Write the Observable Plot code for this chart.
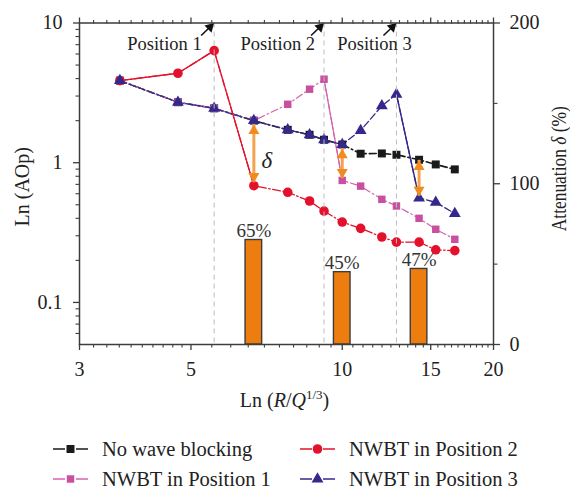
<!DOCTYPE html>
<html><head><meta charset="utf-8">
<script src="https://cdn.jsdelivr.net/npm/d3@7"></script>
<script src="https://cdn.jsdelivr.net/npm/@observablehq/plot@0.6"></script>
<style>
html,body{margin:0;padding:0;background:#fff;}
#wrap{position:relative;width:570px;height:492px;font-family:"Liberation Serif","Times New Roman",serif;overflow:hidden;}
.leg{position:absolute;display:flex;align-items:center;height:30px;font-size:20.5px;color:#222;white-space:nowrap;}
.leg svg{margin-right:14px;flex:none}
</style></head><body><div id="wrap"><div id="chart"></div><div id="legend"></div></div>
<script>
// ---- data ----
const distances   = [3.61, 4.71, 5.56, 6.67, 7.79, 8.61, 9.2, 10.0, 10.88, 11.99, 12.82, 14.22, 15.35, 16.75];
const noBlocking  = [3.87, 2.71, 2.45, 2.0, 1.72, 1.585, 1.46, 1.35, 1.16, 1.165, 1.14, 1.05, 0.972, 0.896];
const position1   = [3.87, 2.71, 2.45, 2.0, 2.62, 3.36, 3.96, 0.747, 0.68, 0.547, 0.49, 0.40, 0.334, 0.283];
const position2   = [3.87, 4.37, 6.34, 0.685, 0.614, 0.532, 0.451, 0.376, 0.339, 0.294, 0.27, 0.27, 0.238, 0.235];
const position3   = [3.87, 2.71, 2.45, 2.0, 1.72, 1.585, 1.46, 1.35, 1.70, 2.55, 3.09, 0.559, 0.52, 0.433];
const seriesNames = ["No wave blocking", "NWBT in Position 1", "NWBT in Position 2", "NWBT in Position 3"];
const positionX   = [5.56, 9.2, 12.82];
const positionLabels = ["Position 1", "Position 2", "Position 3"];
const attenX      = [6.67, 10.0, 14.22];
const attenuation = [65, 45, 47];
const deltaTop    = [1.88, 1.26, 1.04];
const deltaBottom = [0.72, 0.77, 0.575];
const xMajor      = [3, 5, 10, 15, 20];
const yMajor      = [0.1, 1, 10];
const rightMajor  = [0, 100, 200];
const rightMinor  = [50, 150];

// ---- layout ----
const W = 570, H = 420;
const mL = 79, mR = 77, mT = 22.5, mB = 76;
const xDom = [3, 20], yDom = [0.05, 10], rDom = [0, 200];
const pxDecX = (W - mL - mR) / Math.log10(xDom[1] / xDom[0]);
const pxDecY = (H - mT - mB) / Math.log10(yDom[1] / yDom[0]);
const xShift = px => Math.pow(10, px / pxDecX);
const yShift = px => Math.pow(10, px / pxDecY);
const toLeft = v => Math.min(yDom[1], yDom[0] * Math.pow(yDom[1] / yDom[0], (v - rDom[0]) / (rDom[1] - rDom[0])));

const xMinor = [...d3.range(3.2, 4.9, 0.2), ...d3.range(5.5, 19.9, 0.5)].filter(v => !xMajor.some(m => Math.abs(m - v) < 1e-6));
const yMinor = [0.06, 0.07, 0.08, 0.09, 0.2, 0.3, 0.4, 0.5, 0.6, 0.7, 0.8, 0.9, 2, 3, 4, 5, 6, 7, 8, 9];

const styles = [
  {color: "#1a1a1a", line: "#1a1a1a", symbol: "square", r: 4.5, width: 1.6, dash: "7,3,1.5,3", solid: null},
  {color: "#c9509f", line: "#d462ab", symbol: "square", r: 4.2, width: 1.2, dash: "7,3,1.5,3", solid: [6, 7]},
  {color: "#e3112b", line: "#e3112b", symbol: "circle", r: 4.8, width: 1.3, dash: "8,2.5,1.5,2.5", solid: [0, 3]},
  {color: "#35288c", line: "#35288c", symbol: "triangle", r: 4.4, width: 1.3, dash: "7,3", solid: [10, 11]}
];
const allSeries = [noBlocking, position1, position2, position3];
const seriesData = allSeries.map(vals => distances.map((x, i) => ({x, y: vals[i]})));

const marks = [];
// bars on right axis
const barHalf = xShift(8.3);
const barData = attenX.map((x, i) => ({x, v: attenuation[i]}));
marks.push(Plot.rect(barData, {
  x1: d => d.x / barHalf, x2: d => d.x * barHalf,
  y1: d => toLeft(0), y2: d => toLeft(d.v),
  fill: "#ee7d0f", stroke: "#3c3c3c", strokeWidth: 1.4
}));
marks.push(Plot.text(barData, {
  x: "x", y: d => toLeft(d.v), text: d => d.v + "%", dy: -9, lineAnchor: "middle",
  fontSize: 19, fill: "#333"
}));
// series lines and markers
seriesData.forEach((data, k) => {
  const s = styles[k];
  marks.push(Plot.line(data, {x: "x", y: "y", stroke: s.line, strokeWidth: s.width, strokeDasharray: s.dash}));
  if (s.solid) marks.push(Plot.line(data.slice(s.solid[0], s.solid[1] + 1), {x: "x", y: "y", stroke: s.line, strokeWidth: s.width}));
});
seriesData.forEach((data, k) => {
  const s = styles[k];
  marks.push(Plot.dot(data, {x: "x", y: "y", symbol: s.symbol, r: s.r, fill: s.color, stroke: "none"}));
});
// delta arrows
const deltaData = attenX.map((x, i) => ({x, top: deltaTop[i], bottom: deltaBottom[i]}));
marks.push(Plot.ruleX(deltaData, {x: "x", y1: "bottom", y2: "top", stroke: "#f5a24e", strokeWidth: 3}));
marks.push(Plot.dot(deltaData, {x: "x", y: "top", symbol: "triangle", r: 4.1, dy: 6.4, fill: "#f08c1f"}));
marks.push(Plot.dot(deltaData, {x: "x", y: "bottom", symbol: "triangle", r: 4.1, dy: -6.4, rotate: 180, fill: "#f08c1f"}));
marks.push(Plot.text(["δ"], {x: attenX[0], y: Math.sqrt(deltaTop[0] * deltaBottom[0]), dx: 13, dy: 7, text: d => d,
  fontSize: 23, fontStyle: "italic", fill: "#222"}));
// position lines
marks.push(Plot.ruleX(positionX, {x: d => d, stroke: "#bdbdbd", strokeWidth: 1, strokeDasharray: "5,4"}));
// position labels and arrows
const labelOffsets = [49.7, 46.3, 22];
marks.push(Plot.text(positionX.map((x, i) => ({x, label: positionLabels[i], off: labelOffsets[i]})), {
  x: d => d.x / xShift(d.off), frameAnchor: "top", dy: 21, lineAnchor: "middle", text: "label",
  fontSize: 18.5, fill: "#222"
}));
marks.push(Plot.link(positionX, {x1: d => d / xShift(13), y1: d => yDom[1] / yShift(12.5), x2: d => d / xShift(3), y2: d => yDom[1] / yShift(3),
  stroke: "#111", strokeWidth: 1.6}));
marks.push(Plot.dot(positionX, {x: d => d, y: d => yDom[1], symbol: "triangle", r: 3.7, rotate: 45, dx: -4.1, dy: 4.1, fill: "#111"}));
// frame and axes
marks.push(Plot.frame({stroke: "#3d3d3d", strokeWidth: 1.5}));
const tickCol = "#3d3d3d";
marks.push(Plot.axisX({anchor: "bottom", ticks: xMajor, tickFormat: d => String(d), tickSize: 6, tickPadding: 11, fontSize: 20, label: null, stroke: tickCol, strokeWidth: 1.3}));
marks.push(Plot.axisX({anchor: "bottom", ticks: xMinor, tickFormat: () => "", tickSize: 3.5, label: null, stroke: tickCol, strokeWidth: 1.1}));
marks.push(Plot.axisX({anchor: "top", ticks: xMajor, tickFormat: () => "", tickSize: 6, label: null, stroke: tickCol, strokeWidth: 1.3}));
marks.push(Plot.axisX({anchor: "top", ticks: xMinor, tickFormat: () => "", tickSize: 3.5, label: null, stroke: tickCol, strokeWidth: 1.1}));
marks.push(Plot.axisY({anchor: "left", ticks: yMajor, tickFormat: d => String(d), tickSize: 6, tickPadding: 11, fontSize: 20, label: null, stroke: tickCol, strokeWidth: 1.3}));
marks.push(Plot.axisY({anchor: "left", ticks: yMinor, tickFormat: () => "", tickSize: 3.5, label: null, stroke: tickCol, strokeWidth: 1.1}));
marks.push(Plot.axisY({anchor: "right", ticks: rightMajor.map(toLeft), tickFormat: () => "", tickSize: 6, label: null, stroke: tickCol, strokeWidth: 1.3}));
marks.push(Plot.axisY({anchor: "right", ticks: rightMinor.map(toLeft), tickFormat: () => "", tickSize: 3.5, label: null, stroke: tickCol, strokeWidth: 1.1}));
// right axis labels (linear 0-200 mapped onto the log frame)
marks.push(Plot.text(rightMajor, {y: d => toLeft(d), text: d => String(d), frameAnchor: "right", dx: 16, textAnchor: "start", lineAnchor: "middle", fontSize: 20, fill: "#222"}));
// axis titles
marks.push(Plot.text(["Ln (AOp)"], {text: d => d, frameAnchor: "left", rotate: -90, dx: -57, dy: 3, textAnchor: "middle", lineAnchor: "middle", fontSize: 20, fill: "#222"}));
marks.push(Plot.text(["Attenuation δ (%)"], {text: d => d, frameAnchor: "right", rotate: -90, dx: 66, dy: -15, textAnchor: "middle", lineAnchor: "middle", fontSize: 20, fill: "#222"}));
marks.push(Plot.text(["Ln (R/Q1/3)"], {text: d => d, frameAnchor: "bottom", dy: 56, dx: -2, textAnchor: "middle", lineAnchor: "middle", fontSize: 20, fill: "#222"}));

const chart = Plot.plot({
  width: W, height: H,
  marginLeft: mL, marginRight: mR, marginTop: mT, marginBottom: mB,
  x: {type: "log", domain: xDom},
  y: {type: "log", domain: yDom},
  style: {fontFamily: '"Liberation Serif","Times New Roman",serif', color: "#222", background: "#fff", overflow: "visible"},
  marks
});
document.getElementById("chart").appendChild(chart);

// rich text in titles
chart.querySelectorAll("text").forEach(t => {
  if (t.textContent === "Ln (R/Q1/3)") {
    t.innerHTML = 'Ln (<tspan font-style="italic">R</tspan>/<tspan font-style="italic">Q</tspan><tspan dy="-8" font-size="13">1/3</tspan><tspan dy="8">)</tspan>';
  } else if (t.textContent === "Attenuation δ (%)") {
    t.innerHTML = 'Attenuation <tspan font-style="italic">δ</tspan> (%)';
    t.setAttribute("textLength", "125");
    t.setAttribute("lengthAdjust", "spacingAndGlyphs");
  }
});

// legend
const legend = document.getElementById("legend");
const legendPos = [[53, 434], [53, 464], [300, 434], [300, 464]];
seriesNames.forEach((name, k) => {
  const s = styles[k];
  const div = document.createElement("div");
  div.className = "leg";
  div.style.left = legendPos[k][0] + "px";
  div.style.top = legendPos[k][1] + "px";
  const sym = d3.symbol(k === 0 || k === 1 ? d3.symbolSquare : k === 2 ? d3.symbolCircle : d3.symbolTriangle, Math.PI * s.r * s.r)();
  div.innerHTML = `<svg width="35" height="14" viewBox="0 0 35 14"><line x1="0" x2="12" y1="7" y2="7" stroke="${s.line}" stroke-width="1.5"/><line x1="23" x2="35" y1="7" y2="7" stroke="${s.line}" stroke-width="1.5"/><path transform="translate(17.5,7)" d="${sym}" fill="${s.color}"/></svg><span>${name}</span>`;
  legend.appendChild(div);
});
</script></body></html>
